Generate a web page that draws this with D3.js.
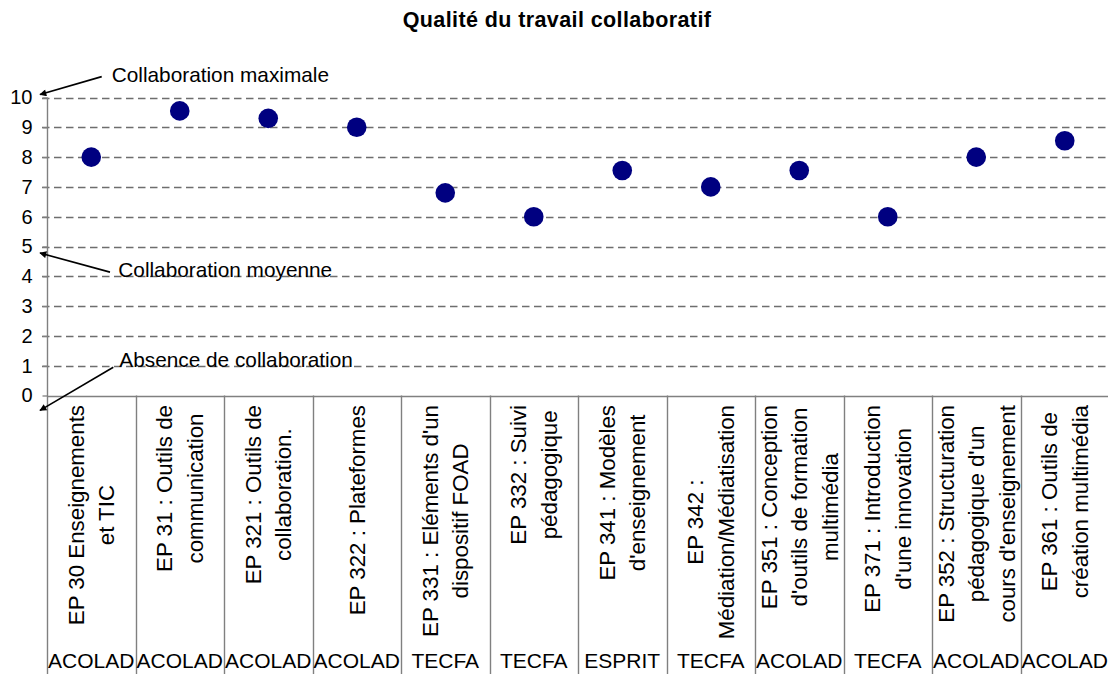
<!DOCTYPE html>
<html>
<head>
<meta charset="utf-8">
<script src="https://cdn.jsdelivr.net/npm/d3@7/dist/d3.min.js"></script>
<style>
  html, body { margin: 0; padding: 0; background: #fff; }
  svg { display: block; }
  text { font-family: "Liberation Sans", Arial, Helvetica, sans-serif; fill: #000; }
</style>
</head>
<body>
<svg id="chart" width="1108" height="674"></svg>
<script>
// ---- data ----
const title = "Qualité du travail collaboratif";
const categoryLines = [
  ["EP 30 Enseignements", "et TIC"],
  ["EP 31 : Outils de", "communication"],
  ["EP 321 : Outils de", "collaboration."],
  ["EP 322 : Plateformes"],
  ["EP 331 : Eléments d'un", "dispositif FOAD"],
  ["EP 332 : Suivi", "pédagogique"],
  ["EP 341 : Modèles", "d'enseignement"],
  ["EP 342 :", "Médiation/Médiatisation"],
  ["EP 351 : Conception", "d'outils de formation", "multimédia"],
  ["EP 371 : Introduction", "d'une innovation"],
  ["EP 352 : Structuration", "pédagogique d'un", "cours d'enseignement"],
  ["EP 361 : Outils de", "création multimédia"]
];
const groups = ["ACOLAD","ACOLAD","ACOLAD","ACOLAD","TECFA","TECFA","ESPRIT","TECFA","ACOLAD","TECFA","ACOLAD","ACOLAD"];
const values = [8, 9.55, 9.3, 9, 6.8, 6, 7.55, 7, 7.55, 6, 8, 8.55];
const yTicks = [0,1,2,3,4,5,6,7,8,9,10];
const annotationTexts = ["Collaboration maximale", "Collaboration moyenne", "Absence de collaboration"];
const annotationTip = [10.1, 4.78, -0.5];     // value pointed at
const annotationStart = [10.7, 4.14, 0.95];   // value where arrow leaves text
const annotationBase = [10.52, 3.97, 0.95];   // text baseline value

// ---- layout ----
const W = 1108, H = 674;
const left = 47, right = 1109;
const svg = d3.select("#chart");
const font = '"Liberation Sans", Arial, Helvetica, sans-serif';

const ids = categoryLines.map((d, i) => "c" + i);
const x = d3.scaleBand().domain(ids).range([left, right]).padding(0);
const y = d3.scaleLinear().domain([0, 10]).range([395.5, 97.5]);

const grey = "#808080";
const gridGrey = "#6e6e6e";

// title
svg.append("text")
  .attr("x", 557).attr("y", 27)
  .attr("text-anchor", "middle")
  .style("font-size", "21.5px").style("font-weight", "bold")
  .style("letter-spacing", "0.4px")
  .text(title);

// gridlines (dashed)
svg.append("g").selectAll("line")
  .data(yTicks.filter(t => t > 0))
  .join("line")
  .attr("x1", left - 5).attr("x2", W)
  .attr("y1", d => Math.round(y(d)) + 0.5).attr("y2", d => Math.round(y(d)) + 0.5)
  .attr("stroke", gridGrey).attr("stroke-width", 1.4)
  .attr("stroke-dasharray", "7.5,4.5");

// y axis
const yAxis = d3.axisLeft(y).tickValues(yTicks).tickSize(5).tickPadding(10).tickFormat(d3.format("d"));
const gy = svg.append("g").attr("transform", `translate(${left + 0.5},0)`).call(yAxis);
gy.select(".domain").remove();
gy.selectAll(".tick line").attr("stroke", grey).attr("stroke-width", 1.3);
gy.selectAll(".tick text").style("font-size", "20px").style("font-family", font).attr("fill", "#000");

// y axis line extends to bottom
svg.append("line")
  .attr("x1", left + 0.5).attr("x2", left + 0.5)
  .attr("y1", y(10)).attr("y2", H)
  .attr("stroke", grey).attr("stroke-width", 1.4);

// x axis line
svg.append("line")
  .attr("x1", left).attr("x2", W)
  .attr("y1", Math.round(y(0)) + 0.5).attr("y2", Math.round(y(0)) + 0.5)
  .attr("stroke", grey).attr("stroke-width", 1.4);

// category dividers
svg.append("g").selectAll("line")
  .data(ids.slice(1))
  .join("line")
  .attr("x1", d => Math.round(x(d)) + 0.5).attr("x2", d => Math.round(x(d)) + 0.5)
  .attr("y1", y(0)).attr("y2", H)
  .attr("stroke", grey).attr("stroke-width", 1.4);

// category labels (rotated, top aligned, lines centered)
const lineGap = 30.5;
const labelTop = 405;
const catG = svg.append("g");
categoryLines.forEach((lines, i) => {
  const cx = x(ids[i]) + x.bandwidth() / 2;
  const g = catG.append("g");
  const texts = g.selectAll("text").data(lines).join("text")
    .style("font-size", "22.3px")
    .attr("text-anchor", "middle")
    .attr("dy", "0.35em")
    .text(d => d);
  let maxLen = 0;
  texts.each(function(){ maxLen = Math.max(maxLen, this.getComputedTextLength()); });
  const cy = labelTop + maxLen / 2;
  const n = lines.length;
  texts.attr("transform", (d, j) => {
    const lx = cx + (j - (n - 1) / 2) * lineGap;
    return `translate(${lx},${cy}) rotate(-90)`;
  });
});

// group labels
svg.append("g").selectAll("text")
  .data(groups)
  .join("text")
  .attr("x", (d, i) => x(ids[i]) + x.bandwidth() / 2)
  .attr("y", 668)
  .attr("text-anchor", "middle")
  .style("font-size", "21px")
  .text(d => d);

// points
svg.append("g").selectAll("circle")
  .data(values)
  .join("circle")
  .attr("cx", (d, i) => x(ids[i]) + x.bandwidth() / 2)
  .attr("cy", d => y(d))
  .attr("r", 9.8)
  .attr("fill", "#000080");

// annotations
const defs = svg.append("defs");
defs.append("marker")
  .attr("id", "arrow")
  .attr("viewBox", "0 0 10 10")
  .attr("refX", 9).attr("refY", 5)
  .attr("markerWidth", 9).attr("markerHeight", 7)
  .attr("markerUnits", "userSpaceOnUse")
  .attr("orient", "auto")
  .append("path").attr("d", "M0,0 L10,5 L0,10 Z").attr("fill", "#000");

const annTextX = [111.7, 118.3, 119.3];
const annStartX = [101.7, 110, 113.3];
const tipX = 40;
annotationTexts.forEach((t, i) => {
  svg.append("line")
    .attr("x1", annStartX[i]).attr("y1", y(annotationStart[i]))
    .attr("x2", tipX).attr("y2", y(annotationTip[i]))
    .attr("stroke", "#000").attr("stroke-width", 1.6)
    .attr("marker-end", "url(#arrow)");
  svg.append("text")
    .attr("x", annTextX[i]).attr("y", y(annotationBase[i]))
    .style("font-size", "20.8px")
    .text(t);
});
</script>
</body>
</html>
